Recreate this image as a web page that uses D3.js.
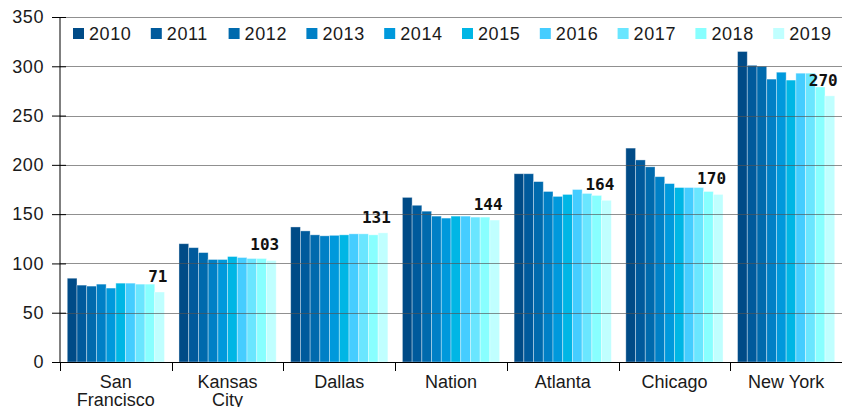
<!DOCTYPE html>
<html>
<head>
<meta charset="utf-8">
<script src="https://cdn.jsdelivr.net/npm/d3@7/dist/d3.min.js"></script>
<style>
  body { margin: 0; background: #fff; }
  svg { display: block; }
  .axis path, .axis line { stroke: #000; }
  .tick-label { font-family: "Liberation Sans", Arial, sans-serif; font-size: 18px; fill: #1a1a1a; }
  .cat-label { font-family: "Liberation Sans", sans-serif; font-size: 18px; fill: #1a1a1a; }
  .value-label { font-family: "DejaVu Sans Mono", monospace; font-weight: bold; font-size: 16px; fill: #111; }
</style>
</head>
<body>
<svg id="chart" width="842" height="407"></svg>
<script>
// data
const years = ['2010', '2011', '2012', '2013', '2014', '2015', '2016', '2017', '2018', '2019'];
const cities = ['San Francisco', 'Kansas City', 'Dallas', 'Nation', 'Atlanta', 'Chicago', 'New York'];
const sanFrancisco = [85, 78, 77, 79, 75, 80, 80, 79, 79, 71];
const kansasCity = [120, 116, 111, 104, 104, 107, 106, 105, 105, 103];
const dallas = [137, 133, 129, 128, 128.5, 129, 130, 130, 129, 131];
const nation = [167, 159, 153, 148, 146, 148, 148, 147, 147, 144];
const atlanta = [191, 191, 183, 173, 168, 170, 175, 171, 169, 164];
const chicago = [217, 205, 198, 188, 181, 177, 177, 177, 173, 170];
const newYork = [315, 301, 300, 287, 294, 286, 293, 293, 279, 270];
const yTicks = [0, 50, 100, 150, 200, 250, 300, 350];
const colors = ['#004b87', '#005a9c', '#006aad', '#0080c6', '#0099dc', '#00b6e5', '#45cdff', '#6ae6ff', '#88ffff', '#c0ffff'];

const cityValues = [sanFrancisco, kansasCity, dallas, nation, atlanta, chicago, newYork];
const rows = cities.map((c, i) => ({city: c, values: cityValues[i]}));

// size
const plotLeft = 60, plotRight = 842, plotTop = 17, plotBottom = 362;

const svg = d3.select('#chart');

const x0 = d3.scaleBand()
  .domain(cities)
  .range([plotLeft, plotRight])
  .paddingInner(0.13)
  .paddingOuter(0.065);

const x1 = d3.scaleBand()
  .domain(years)
  .range([0, x0.bandwidth()]);

const y = d3.scaleLinear()
  .domain([0, 350])
  .range([plotBottom, plotTop]);

const color = d3.scaleOrdinal().domain(years).range(colors);

// bars
const groups = svg.append('g')
  .selectAll('g')
  .data(rows)
  .join('g')
  .attr('transform', d => 'translate(' + x0(d.city) + ',0)');

groups.selectAll('rect')
  .data(d => d.values.map((v, i) => ({year: years[i], value: v})))
  .join('rect')
  .attr('x', d => x1(d.year))
  .attr('y', d => y(d.value))
  .attr('width', x1.bandwidth())
  .attr('height', d => y(0) - y(d.value))
  .attr('fill', d => color(d.year))
  .attr('stroke', 'rgba(255,255,255,0.45)')
  .attr('stroke-width', 0.8);

// gridlines over bars
svg.append('g')
  .selectAll('line')
  .data(yTicks.filter(t => t > 0))
  .join('line')
  .attr('x1', plotLeft)
  .attr('x2', plotRight)
  .attr('y1', d => Math.round(y(d)) + 0.5)
  .attr('y2', d => Math.round(y(d)) + 0.5)
  .attr('stroke', '#555')
  .attr('stroke-opacity', 0.65)
  .attr('stroke-width', 1);

// y axis
const yAxis = svg.append('g')
  .attr('class', 'axis')
  .attr('transform', 'translate(' + plotLeft + ',0)')
  .call(d3.axisLeft(y).tickValues(yTicks).tickSize(8).tickPadding(8));
yAxis.select('.domain').attr('d', 'M0,' + plotTop + 'V' + plotBottom);
yAxis.selectAll('.tick line').attr('x1', 6);
yAxis.selectAll('.tick text').attr('class', 'tick-label').attr('letter-spacing', 0.6);
yAxis.attr('font-size', null).attr('font-family', null);

// x axis: baseline and ticks at group boundaries
const xAxis = svg.append('g').attr('class', 'axis');
xAxis.append('line')
  .attr('x1', plotLeft).attr('x2', plotRight)
  .attr('y1', plotBottom + 0.5).attr('y2', plotBottom + 0.5);
const gap = (x0.step() - x0.bandwidth()) / 2;
xAxis.selectAll('.xtick')
  .data(cities)
  .join('line')
  .attr('class', 'xtick')
  .attr('x1', d => Math.round(x0(d) - gap) + 0.5)
  .attr('x2', d => Math.round(x0(d) - gap) + 0.5)
  .attr('y1', plotBottom)
  .attr('y2', plotBottom + 9);

const catText = xAxis.selectAll('.cat-label')
  .data(cities)
  .join('text')
  .attr('class', 'cat-label')
  .attr('text-anchor', 'middle')
  .attr('x', d => x0(d) + x0.bandwidth() / 2)
  .attr('y', 388);
catText.each(function (d) {
  const lines = (d === 'New York') ? [d] : d.split(' ');
  d3.select(this).selectAll('tspan')
    .data(lines)
    .join('tspan')
    .attr('x', x0(d) + x0.bandwidth() / 2)
    .attr('dy', (l, i) => i === 0 ? 0 : 18)
    .text(l => l);
});

// value labels on 2019 bars
svg.append('g')
  .selectAll('text')
  .data(rows)
  .join('text')
  .attr('class', 'value-label')
  .attr('text-anchor', 'end')
  .attr('x', d => x0(d.city) + x1('2019') + x1.bandwidth() + 3)
  .attr('y', d => y(d.values[9]) - 10)
  .text(d => d.values[9]);

// legend
const legend = svg.append('g')
  .selectAll('g')
  .data(years)
  .join('g')
  .attr('transform', (d, i) => 'translate(' + (73 + i * 77.8) + ',28)');
legend.append('rect')
  .attr('width', 11)
  .attr('height', 11)
  .attr('fill', d => color(d));
legend.append('text')
  .attr('class', 'tick-label')
  .attr('letter-spacing', 0.6)
  .attr('x', 16)
  .attr('y', 12)
  .text(d => d);
</script>
</body>
</html>
